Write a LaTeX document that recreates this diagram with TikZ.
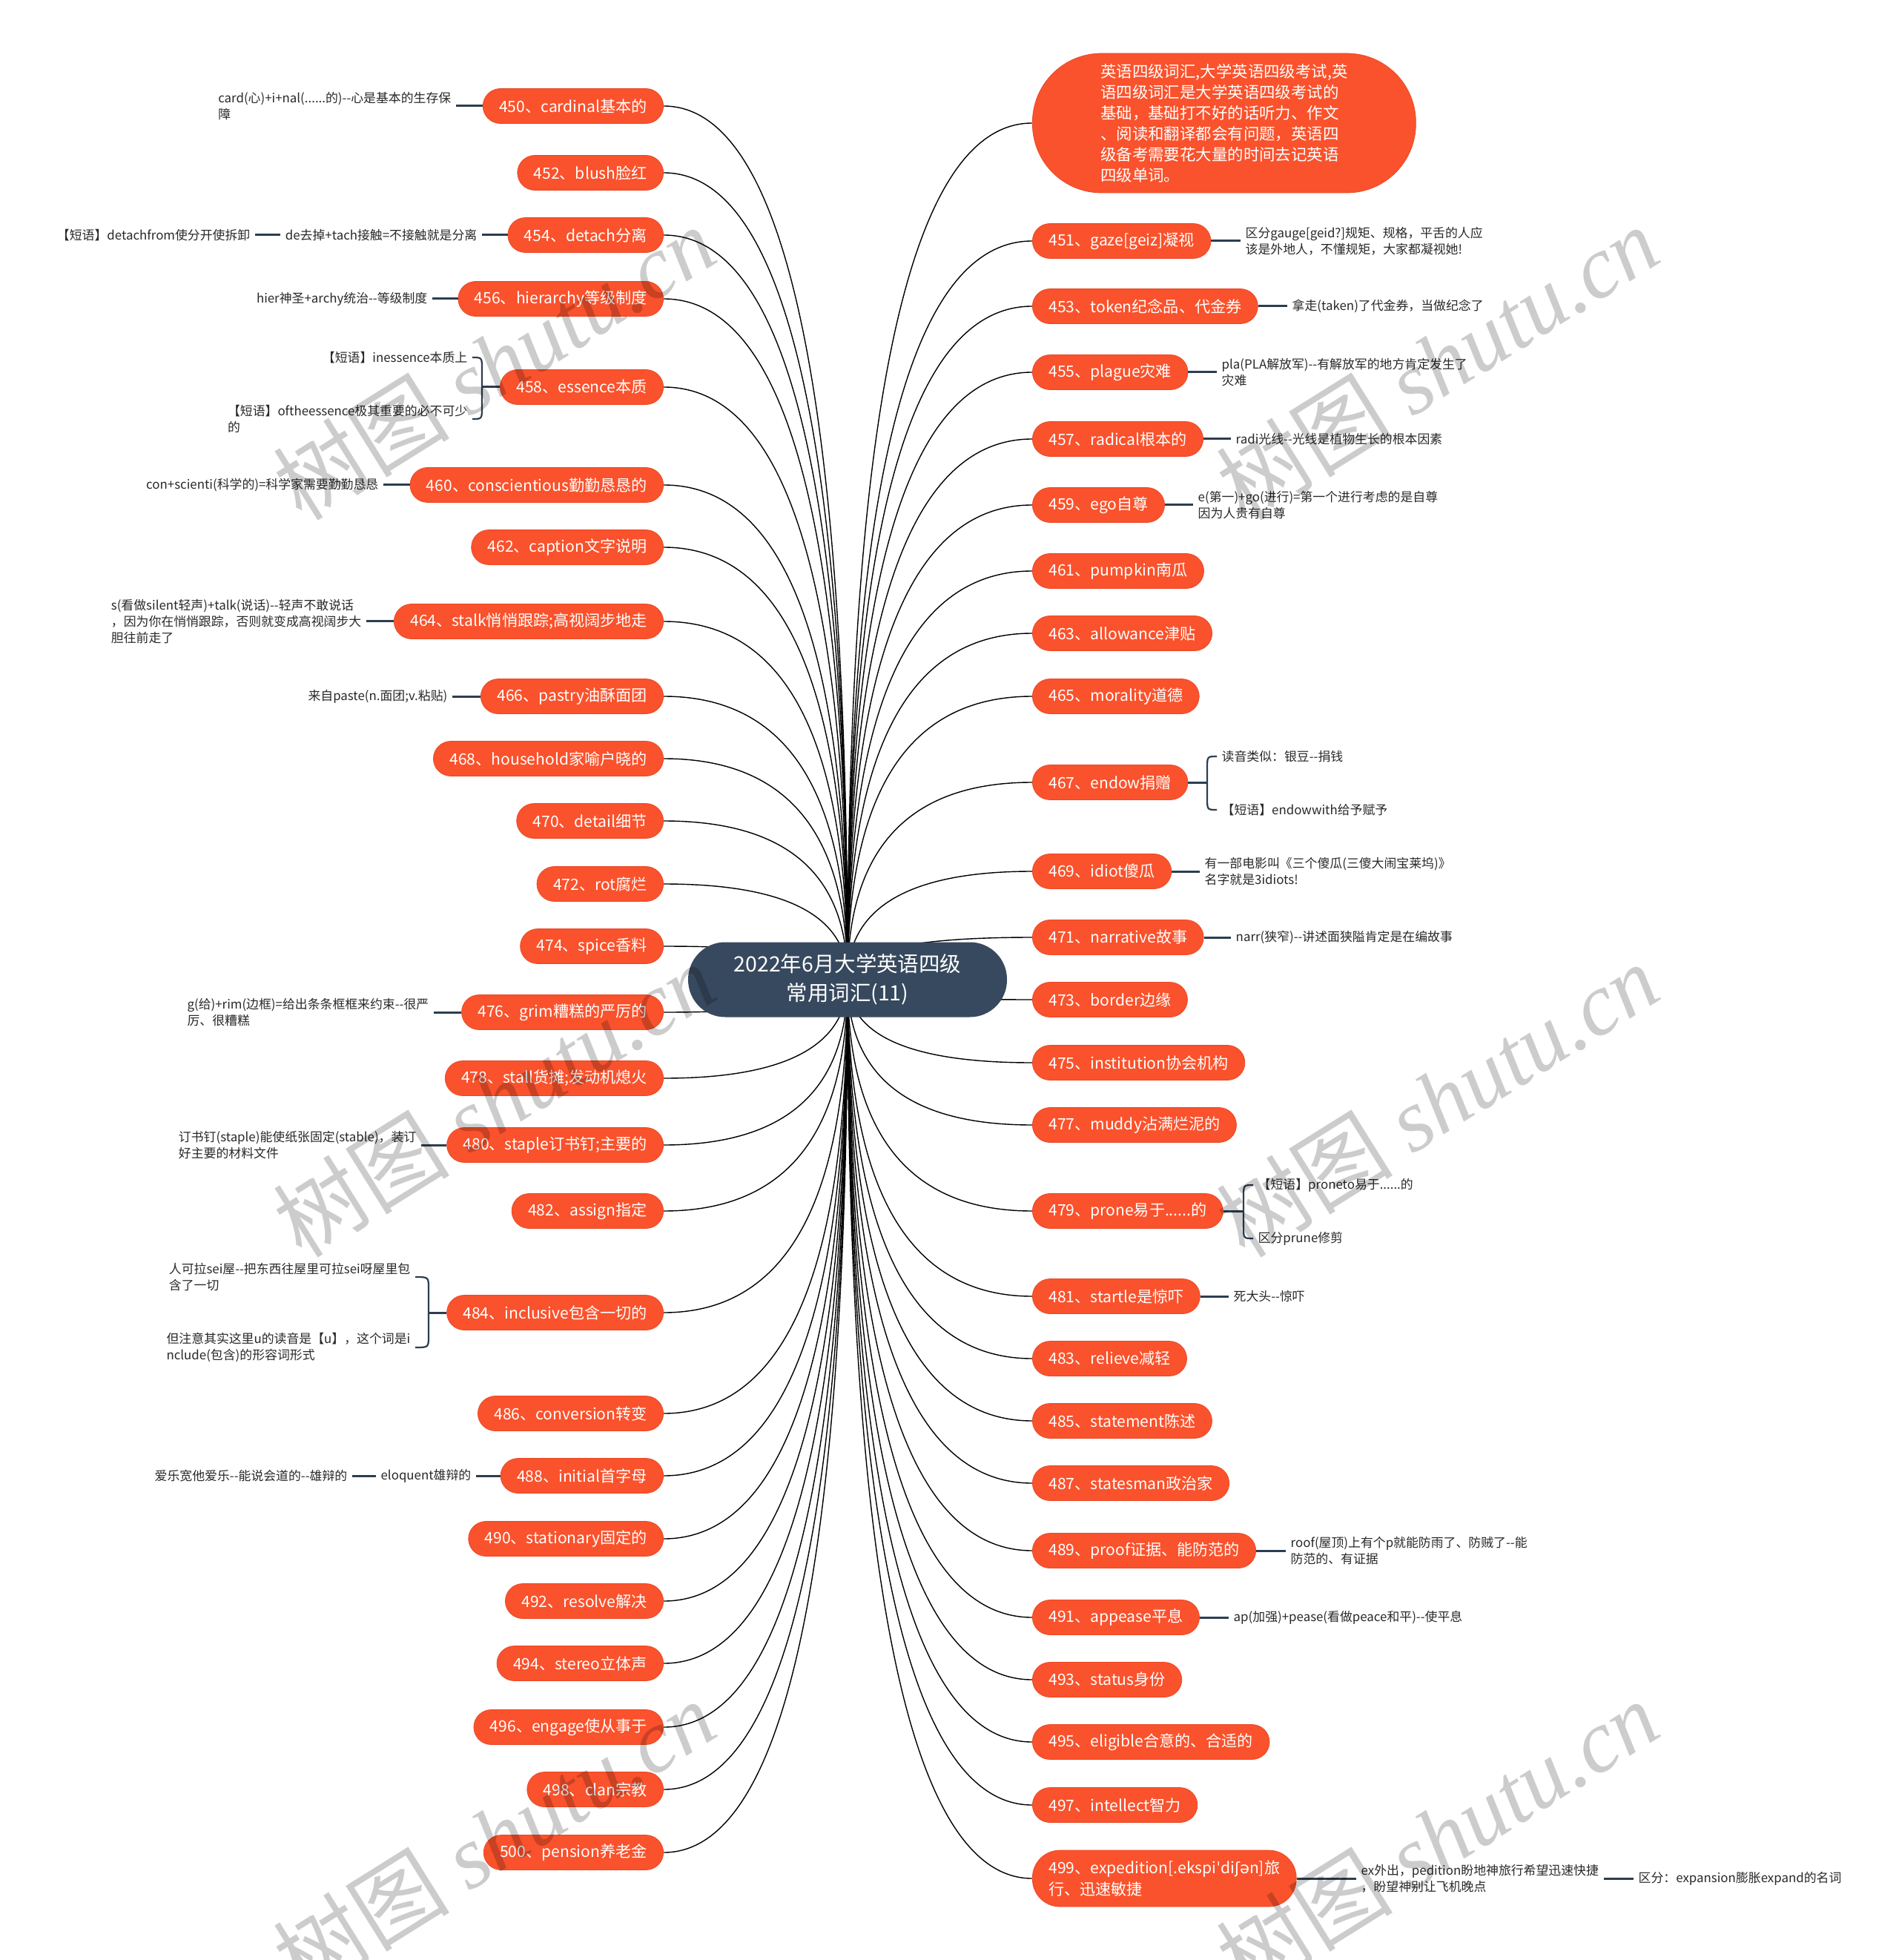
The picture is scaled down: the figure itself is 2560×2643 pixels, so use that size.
\documentclass[tikz,border=0pt]{standalone}
\usepackage{fontspec}
\setmainfont{Noto Sans CJK SC}[Ligatures=TeXOff]
\newfontfamily\ipafont{DejaVu Sans}
\newfontfamily\markfont{Liberation Serif}
\usetikzlibrary{calc,backgrounds}
\definecolor{leaf}{RGB}{250,82,44}
\definecolor{leafline}{RGB}{232,72,38}
\definecolor{trunk}{RGB}{44,62,80}
\definecolor{hub}{RGB}{55,73,94}
\definecolor{ink}{RGB}{40,40,40}

\begin{document}
\begin{tikzpicture}[x=0.1mm, y=-0.1mm,
    word/.style={rectangle, rounded corners=2.35mm, fill=leaf, draw=leafline, line width=0.2pt,
        text=white, minimum height=4.7mm, inner xsep=2.2mm, inner ysep=0pt,
        font=\fontsize{6}{8.1}\selectfont},
    hubnode/.style={rectangle, rounded corners=5mm, fill=hub, text=white, align=center,
        minimum width=43mm, minimum height=10.1mm, font=\fontsize{8.1}{11.1}\selectfont},
    intro/.style={word, rounded corners=9.3mm, align=left, minimum width=51.7mm,
        minimum height=18.8mm, font=\fontsize{6.1}{7.96}\selectfont},
    memo/.style={text=ink, align=left, inner xsep=0.6mm, inner ysep=0.3mm,
        font=\fontsize{4.8}{6.26}\selectfont},
    branchline/.style={draw=trunk, line width=0.25mm},
    twig/.style={to path={.. controls ($(\tikztostart)!.667!(\tikztostart |- \tikztotarget)$)
        and ($(\tikztotarget)!.667!(\tikztostart |- \tikztotarget)$) .. (\tikztotarget)}},
    wmark/.style={text=black, text opacity=0.2, rotate=32, inner sep=0pt}]

\useasboundingbox (0,0) rectangle (2560,2643);

\node[hubnode] (root) at (1143,1321) {2022年6月大学英语四级\\常用词汇(11)};

\begin{scope}[every node/.style={word, anchor=east}]
    \node (w450) at (895,143) {450、cardinal基本的};
    \node (w452) at (895,233) {452、blush脸红};
    \node (w454) at (895,317) {454、detach分离};
    \node (w456) at (895,403) {456、hierarchy等级制度};
    \node (w458) at (895,522) {458、essence本质};
    \node (w460) at (895,654) {460、conscientious勤勤恳恳的};
    \node (w462) at (895,738) {462、caption文字说明};
    \node (w464) at (895,838) {464、stalk悄悄跟踪;高视阔步地走};
    \node (w466) at (895,939) {466、pastry油酥面团};
    \node (w468) at (895,1023) {468、household家喻户晓的};
    \node (w470) at (895,1107) {470、detail细节};
    \node (w472) at (895,1192) {472、rot腐烂};
    \node (w474) at (895,1276) {474、spice香料};
    \node (w476) at (895,1365) {476、grim糟糕的严厉的};
    \node (w478) at (895,1454) {478、stall货摊;发动机熄火};
    \node (w480) at (895,1544) {480、staple订书钉;主要的};
    \node (w482) at (895,1633) {482、assign指定};
    \node (w484) at (895,1770) {484、inclusive包含一切的};
    \node (w486) at (895,1906) {486、conversion转变};
    \node (w488) at (895,1990) {488、initial首字母};
    \node (w490) at (895,2075) {490、stationary固定的};
    \node (w492) at (895,2159) {492、resolve解决};
    \node (w494) at (895,2243) {494、stereo立体声};
    \node (w496) at (895,2329) {496、engage使从事于};
    \node (w498) at (895,2413) {498、clan宗教};
    \node (w500) at (895,2498) {500、pension养老金};
\end{scope}

\begin{scope}[every node/.style={word, anchor=west}]
    \node[intro] (lead) at (1392,166) {英语四级词汇,大学英语四级考试,英\\语四级词汇是大学英语四级考试的\\基础，基础打不好的话听力、作文\\、阅读和翻译都会有问题，英语四\\级备考需要花大量的时间去记英语\\四级单词。};
    \node (w451) at (1392,325) {451、gaze[geiz]凝视};
    \node (w453) at (1392,413) {453、token纪念品、代金券};
    \node (w455) at (1392,502) {455、plague灾难};
    \node (w457) at (1392,592) {457、radical根本的};
    \node (w459) at (1392,681) {459、ego自尊};
    \node (w461) at (1392,770) {461、pumpkin南瓜};
    \node (w463) at (1392,854) {463、allowance津贴};
    \node (w465) at (1392,939) {465、morality道德};
    \node (w467) at (1392,1055) {467、endow捐赠};
    \node (w469) at (1392,1175) {469、idiot傻瓜};
    \node (w471) at (1392,1264) {471、narrative故事};
    \node (w473) at (1392,1348) {473、border边缘};
    \node (w475) at (1392,1433) {475、institution协会机构};
    \node (w477) at (1392,1517) {477、muddy沾满烂泥的};
    \node (w479) at (1392,1633) {479、prone易于......的};
    \node (w481) at (1392,1748) {481、startle是惊吓};
    \node (w483) at (1392,1832) {483、relieve减轻};
    \node (w485) at (1392,1916) {485、statement陈述};
    \node (w487) at (1392,2000) {487、statesman政治家};
    \node (w489) at (1392,2091) {489、proof证据、能防范的};
    \node (w491) at (1392,2181) {491、appease平息};
    \node (w493) at (1392,2265) {493、status身份};
    \node (w495) at (1392,2349) {495、eligible合意的、合适的};
    \node (w497) at (1392,2434) {497、intellect智力};
    \node[align=left, rounded corners=3.7mm, minimum height=7.6mm] (w499) at (1392,2533)
        {499、expedition[.ekspi{\ipafont ˈ}di{\ipafont ʃə}n]旅\\行、迅速敏捷};
\end{scope}

\begin{scope}[every node/.style={memo, anchor=east}]
    \node (m450) at (615,143) {card(心)+i+nal(......的)--心是基本的生存保\\障};
    \node (m454a) at (650,317) {de去掉+tach接触=不接触就是分离};
    \node (m454b) at (344,317) {【短语】detachfrom使分开使拆卸};
    \node (m456) at (583,403) {hier神圣+archy统治--等级制度};
    \node (m458a) at (637,482) {【短语】inessence本质上};
    \node (m458b) at (637,565) {【短语】oftheessence极其重要的必不可少\\的};
    \node (m460) at (517,654) {con+scienti(科学的)=科学家需要勤勤恳恳};
    \node (m464) at (494,838) {s(看做silent轻声)+talk(说话)--轻声不敢说话\\，因为你在悄悄跟踪，否则就变成高视阔步大\\胆往前走了};
    \node (m466) at (610,939) {来自paste(n.面团;v.粘贴)};
    \node (m476) at (585,1365) {g(给)+rim(边框)=给出条条框框来约束--很严\\厉、很糟糕};
    \node (m480) at (568,1544) {订书钉(staple)能使纸张固定(stable)，装订\\好主要的材料文件};
    \node (m484a) at (560,1722) {人可拉sei屋--把东西往屋里可拉sei呀屋里包\\含了一切};
    \node (m484b) at (560,1817) {但注意其实这里u的读音是【u】，这个词是i\\nclude(包含)的形容词形式};
    \node (m488a) at (642,1990) {eloquent雄辩的};
    \node (m488b) at (475,1990) {爱乐宽他爱乐--能说会道的--雄辩的};
\end{scope}

\begin{scope}[every node/.style={memo, anchor=west}]
    \node (m451) at (1673,325) {区分gauge[geid?]规矩、规格，平舌的人应\\该是外地人，不懂规矩，大家都凝视她!};
    \node (m453) at (1736,413) {拿走(taken)了代金券，当做纪念了};
    \node (m455) at (1641,502) {pla(PLA解放军)--有解放军的地方肯定发生了\\灾难};
    \node (m457) at (1660,592) {radi光线--光线是植物生长的根本因素};
    \node (m459) at (1609,681) {e(第一)+go(进行)=第一个进行考虑的是自尊\\因为人贵有自尊};
    \node (m467a) at (1641,1020) {读音类似：银豆--捐钱};
    \node (m467b) at (1641,1092) {【短语】endowwith给予赋予};
    \node (m469) at (1618,1175) {有一部电影叫《三个傻瓜(三傻大闹宝莱坞)》\\名字就是3idiots!};
    \node (m471) at (1660,1264) {narr(狭窄)--讲述面狭隘肯定是在编故事};
    \node (m479a) at (1690,1598) {【短语】proneto易于......的};
    \node (m479b) at (1690,1670) {区分prune修剪};
    \node (m481) at (1657,1748) {死大头--惊吓};
    \node (m489) at (1734,2091) {roof(屋顶)上有个p就能防雨了、防贼了--能\\防范的、有证据};
    \node (m491) at (1657,2181) {ap(加强)+pease(看做peace和平)--使平息};
    \node (m499a) at (1829,2533) {ex外出，pedition盼地神旅行希望迅速快捷\\，盼望神别让飞机晚点};
    \node (m499b) at (2203,2533) {区分：expansion膨胀expand的名词};
\end{scope}

\coordinate (k458) at (650,522);
\coordinate (k484) at (578,1770);
\coordinate (k467) at (1628,1055);
\coordinate (k479) at (1677,1633);

\begin{scope}[on background layer, branchline, twig]
    \draw (root.center) to (w450.east);
    \draw (root.center) to (w452.east);
    \draw (root.center) to (w454.east);
    \draw (root.center) to (w456.east);
    \draw (root.center) to (w458.east);
    \draw (root.center) to (w460.east);
    \draw (root.center) to (w462.east);
    \draw (root.center) to (w464.east);
    \draw (root.center) to (w466.east);
    \draw (root.center) to (w468.east);
    \draw (root.center) to (w470.east);
    \draw (root.center) to (w472.east);
    \draw (root.center) to (w474.east);
    \draw (root.center) to (w476.east);
    \draw (root.center) to (w478.east);
    \draw (root.center) to (w480.east);
    \draw (root.center) to (w482.east);
    \draw (root.center) to (w484.east);
    \draw (root.center) to (w486.east);
    \draw (root.center) to (w488.east);
    \draw (root.center) to (w490.east);
    \draw (root.center) to (w492.east);
    \draw (root.center) to (w494.east);
    \draw (root.center) to (w496.east);
    \draw (root.center) to (w498.east);
    \draw (root.center) to (w500.east);

    \draw (root.center) to (lead.west);
    \draw (root.center) to (w451.west);
    \draw (root.center) to (w453.west);
    \draw (root.center) to (w455.west);
    \draw (root.center) to (w457.west);
    \draw (root.center) to (w459.west);
    \draw (root.center) to (w461.west);
    \draw (root.center) to (w463.west);
    \draw (root.center) to (w465.west);
    \draw (root.center) to (w467.west);
    \draw (root.center) to (w469.west);
    \draw (root.center) to (w471.west);
    \draw (root.center) to (w473.west);
    \draw (root.center) to (w475.west);
    \draw (root.center) to (w477.west);
    \draw (root.center) to (w479.west);
    \draw (root.center) to (w481.west);
    \draw (root.center) to (w483.west);
    \draw (root.center) to (w485.west);
    \draw (root.center) to (w487.west);
    \draw (root.center) to (w489.west);
    \draw (root.center) to (w491.west);
    \draw (root.center) to (w493.west);
    \draw (root.center) to (w495.west);
    \draw (root.center) to (w497.west);
    \draw (root.center) to (w499.west);
\end{scope}

\begin{scope}[branchline, line width=0.3mm]
    \draw (w450.west) -- (m450.east);
    \draw (w454.west) -- (m454a.east);
    \draw (m454a.west) -- (m454b.east);
    \draw (w456.west) -- (m456.east);
    \draw (w460.west) -- (m460.east);
    \draw (w464.west) -- (m464.east);
    \draw (w466.west) -- (m466.east);
    \draw (w476.west) -- (m476.east);
    \draw (w480.west) -- (m480.east);
    \draw (w488.west) -- (m488a.east);
    \draw (m488a.west) -- (m488b.east);

    \draw (w451.east) -- (m451.west);
    \draw (w453.east) -- (m453.west);
    \draw (w455.east) -- (m455.west);
    \draw (w457.east) -- (m457.west);
    \draw (w459.east) -- (m459.west);
    \draw (w469.east) -- (m469.west);
    \draw (w471.east) -- (m471.west);
    \draw (w481.east) -- (m481.west);
    \draw (w489.east) -- (m489.west);
    \draw (w491.east) -- (m491.west);
    \draw (w499.east) -- (m499a.west);
    \draw (m499a.east) -- (m499b.west);

    \draw (w458.west) -- (k458);
    \draw (w484.west) -- (k484);
    \draw (w467.east) -- (k467);
    \draw (w479.east) -- (k479);
\end{scope}

\begin{scope}[branchline, line width=0.22mm]
    \draw (m458a.east) .. controls (k458 |- m458a.east) .. ($(k458 |- m458a.east)+(0,16)$)
        -- ($(k458 |- m458b.east)+(0,-16)$) .. controls (k458 |- m458b.east) .. (m458b.east);
    \draw (m484a.east) .. controls (k484 |- m484a.east) .. ($(k484 |- m484a.east)+(0,16)$)
        -- ($(k484 |- m484b.east)+(0,-16)$) .. controls (k484 |- m484b.east) .. (m484b.east);
    \draw (m467a.west) .. controls (k467 |- m467a.west) .. ($(k467 |- m467a.west)+(0,16)$)
        -- ($(k467 |- m467b.west)+(0,-16)$) .. controls (k467 |- m467b.west) .. (m467b.west);
    \draw (m479a.west) .. controls (k479 |- m479a.west) .. ($(k479 |- m479a.west)+(0,16)$)
        -- ($(k479 |- m479b.west)+(0,-16)$) .. controls (k479 |- m479b.west) .. (m479b.west);
\end{scope}

\begin{scope}[every node/.style={wmark}]
    \node (mk1) at (666,489) {\fontsize{34}{34}\selectfont 树图 {\markfont\itshape shutu.cn}};
    \node (mk2) at (1938,489) {\fontsize{34}{34}\selectfont 树图 {\markfont\itshape shutu.cn}};
    \node (mk3) at (666,1483) {\fontsize{34}{34}\selectfont 树图 {\markfont\itshape shutu.cn}};
    \node (mk4) at (1938,1483) {\fontsize{34}{34}\selectfont 树图 {\markfont\itshape shutu.cn}};
    \node (mk5) at (666,2477) {\fontsize{34}{34}\selectfont 树图 {\markfont\itshape shutu.cn}};
    \node (mk6) at (1938,2477) {\fontsize{34}{34}\selectfont 树图 {\markfont\itshape shutu.cn}};
\end{scope}

\end{tikzpicture}
\end{document}
